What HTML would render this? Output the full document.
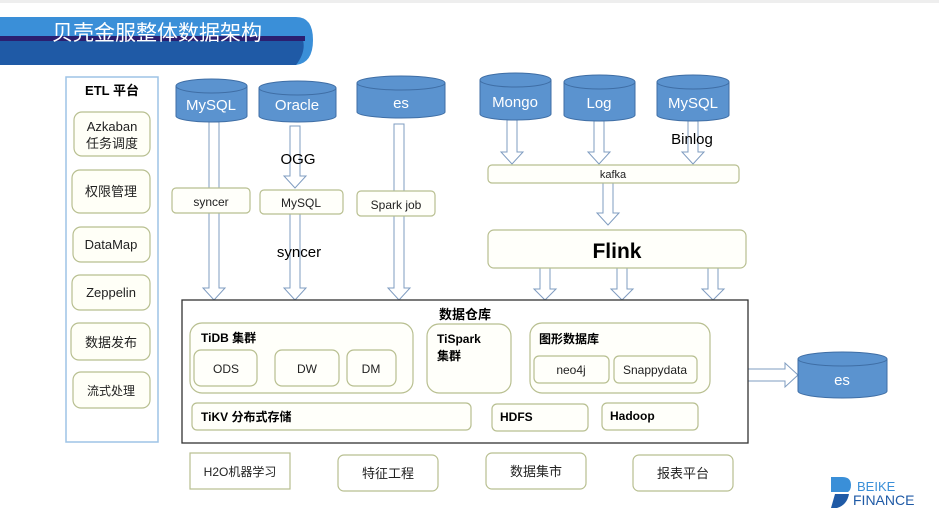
<!DOCTYPE html>
<html><head><meta charset="utf-8"><style>
html,body{margin:0;padding:0;background:#fff;}
svg{display:block;}
text{font-family:"Liberation Sans","Noto Sans CJK SC",sans-serif;}
</style></head><body>
<svg width="939" height="529" viewBox="0 0 939 529" xmlns="http://www.w3.org/2000/svg">
<rect x="0" y="0" width="939" height="3" fill="#eeeeee"/>
<!-- banner -->
<path d="M0 17 H296 Q313 17 313 40 Q313 63 296 65 H0 Z" fill="#3a8fd8"/>
<path d="M0 40 H303 Q306 52 296 65 H0 Z" fill="#1f5aa6"/>
<rect x="0" y="36" width="305" height="5" fill="#2a1f70"/>
<text x="52" y="40" font-size="21" fill="#fff">贝壳金服整体数据架构</text>

<!-- ETL panel -->
<rect x="66" y="77" width="92" height="365" fill="#fff" stroke="#9dc3e6" stroke-width="1.5"/>
<text x="112" y="95" font-size="13" font-weight="bold" text-anchor="middle" fill="#000">ETL 平台</text>
<g fill="#fffff7" stroke="#b8bf90" stroke-width="1.2">
<rect x="74" y="112" width="76" height="44" rx="8"/>
<rect x="72" y="170" width="78" height="43" rx="8"/>
<rect x="73" y="227" width="77" height="35" rx="8"/>
<rect x="72" y="275" width="78" height="35" rx="8"/>
<rect x="71" y="323" width="79" height="37" rx="8"/>
<rect x="73" y="372" width="77" height="36" rx="8"/>
</g>
<g font-size="13" text-anchor="middle" fill="#222">
<text x="112" y="131">Azkaban</text>
<text x="112" y="148">任务调度</text>
<text x="111" y="196">权限管理</text>
<text x="111" y="249">DataMap</text>
<text x="111" y="297">Zeppelin</text>
<text x="111" y="347">数据发布</text>
<text x="111" y="395" font-size="12">流式处理</text>
</g>

<!-- arrows (hollow) -->
<g fill="#fff" stroke="#7f9cc0" stroke-width="1">
<path d="M209 122 V288 H203 L214 300 L225 288 H219 V122 Z"/>
<path d="M290 126 V176 H284 L295 188 L306 176 H300 V126 Z"/>
<path d="M290 214 V288 H284 L295 300 L306 288 H300 V214 Z"/>
<path d="M394 124 V288 H388 L399 300 L410 288 H404 V124 Z"/>
<path d="M507 120 V152 H501 L512 164 L523 152 H517 V120 Z"/>
<path d="M594 121 V152 H588 L599 164 L610 152 H604 V121 Z"/>
<path d="M688 121 V152 H682 L693 164 L704 152 H698 V121 Z"/>
<path d="M603 183 V213 H597 L608 225 L619 213 H613 V183 Z"/>
<path d="M540 268 V289 H534 L545 300 L556 289 H550 V268 Z"/>
<path d="M617 268 V289 H611 L622 300 L633 289 H627 V268 Z"/>
<path d="M708 268 V289 H702 L713 300 L724 289 H718 V268 Z"/>
<path d="M748 369 H785 V363 L798 375 L785 387 V381 H748 Z"/>
</g>

<!-- cylinders -->
<g fill="#5b93cf" stroke="#3f6ea5" stroke-width="1">
<path d="M176 86 V116 A35.5 6 0 0 0 247 116 V86"/><ellipse cx="211.5" cy="86" rx="35.5" ry="7"/>
<path d="M259 88 V116 A38.5 6 0 0 0 336 116 V88"/><ellipse cx="297.5" cy="88" rx="38.5" ry="7"/>
<path d="M357 83 V112 A44 6 0 0 0 445 112 V83"/><ellipse cx="401" cy="83" rx="44" ry="7"/>
<path d="M480 80 V114 A35.5 6 0 0 0 551 114 V80"/><ellipse cx="515.5" cy="80" rx="35.5" ry="7"/>
<path d="M564 82 V115 A35.5 6 0 0 0 635 115 V82"/><ellipse cx="599.5" cy="82" rx="35.5" ry="7"/>
<path d="M657 82 V115 A36 6 0 0 0 729 115 V82"/><ellipse cx="693" cy="82" rx="36" ry="7"/>
<path d="M798 359 V391 A44.5 7 0 0 0 887 391 V359"/><ellipse cx="842.5" cy="359" rx="44.5" ry="7"/>
</g>
<g font-size="15" fill="#fff" text-anchor="middle">
<text x="211" y="110">MySQL</text>
<text x="297" y="110">Oracle</text>
<text x="401" y="108">es</text>
<text x="515" y="107">Mongo</text>
<text x="599" y="108">Log</text>
<text x="693" y="108">MySQL</text>
<text x="842" y="385">es</text>
</g>

<!-- labels -->
<g font-size="15" fill="#000" text-anchor="middle">
<text x="298" y="164">OGG</text>
<text x="299" y="257">syncer</text>
<text x="692" y="144">Binlog</text>
</g>

<!-- middle boxes -->
<g fill="#fffffa" stroke="#b8bf90" stroke-width="1.2">
<rect x="172" y="188" width="78" height="25" rx="4"/>
<rect x="260" y="190" width="83" height="24" rx="4"/>
<rect x="357" y="191" width="78" height="25" rx="4"/>
<rect x="488" y="165" width="251" height="18" rx="4"/>
<rect x="488" y="230" width="258" height="38" rx="6"/>
</g>
<g font-size="12" fill="#222" text-anchor="middle">
<text x="211" y="206">syncer</text>
<text x="301" y="207">MySQL</text>
<text x="396" y="209">Spark job</text>
<text x="613" y="178" font-size="11">kafka</text>
</g>
<text x="617" y="258" font-size="21" font-weight="bold" text-anchor="middle" fill="#000">Flink</text>

<!-- data warehouse -->
<rect x="182" y="300" width="566" height="143" fill="#fff" stroke="#333" stroke-width="1.3"/>
<text x="465" y="319" font-size="13" font-weight="bold" text-anchor="middle" fill="#000">数据仓库</text>
<g fill="#fffffa" stroke="#b8bf90" stroke-width="1.2">
<rect x="190" y="323" width="223" height="70" rx="12"/>
<rect x="427" y="324" width="84" height="69" rx="12"/>
<rect x="530" y="323" width="180" height="70" rx="12"/>
<rect x="194" y="350" width="63" height="36" rx="7"/>
<rect x="275" y="350" width="64" height="36" rx="7"/>
<rect x="347" y="350" width="49" height="36" rx="7"/>
<rect x="534" y="356" width="75" height="27" rx="5"/>
<rect x="614" y="356" width="83" height="27" rx="5"/>
<rect x="192" y="403" width="279" height="27" rx="5"/>
<rect x="492" y="404" width="96" height="27" rx="5"/>
<rect x="602" y="403" width="96" height="27" rx="5"/>
</g>
<g font-size="12" font-weight="bold" fill="#000">
<text x="201" y="342">TiDB 集群</text>
<text x="437" y="343">TiSpark</text>
<text x="437" y="360">集群</text>
<text x="539" y="343">图形数据库</text>
<text x="201" y="421">TiKV 分布式存储</text>
<text x="500" y="421">HDFS</text>
<text x="610" y="420">Hadoop</text>
</g>
<g font-size="12" fill="#222" text-anchor="middle">
<text x="226" y="373">ODS</text>
<text x="307" y="373">DW</text>
<text x="371" y="373">DM</text>
<text x="571" y="374">neo4j</text>
<text x="655" y="374">Snappydata</text>
</g>

<!-- bottom -->
<rect x="190" y="453" width="100" height="36" fill="#fff" stroke="#b8bf90" stroke-width="1.2"/>
<g fill="#fff" stroke="#b8bf90" stroke-width="1.2">
<rect x="338" y="455" width="100" height="36" rx="6"/>
<rect x="486" y="453" width="100" height="36" rx="6"/>
<rect x="633" y="455" width="100" height="36" rx="6"/>
</g>
<g font-size="13" fill="#222" text-anchor="middle">
<text x="240" y="476" font-size="12">H2O机器学习</text>
<text x="388" y="478">特征工程</text>
<text x="536" y="476">数据集市</text>
<text x="683" y="478">报表平台</text>
</g>

<!-- logo -->
<path d="M831 477 H842 Q851 477 851 485 Q851 490 848 492 H831 Z" fill="#3a8fd8"/>
<path d="M835 494 H849 Q847 505 837 508 H831 Z" fill="#1f5aa6"/>
<text x="857" y="491" font-size="13" fill="#3a8fd8">BEIKE</text>
<text x="853" y="505" font-size="14" fill="#1f5aa6">FINANCE</text>
</svg>
</body></html>
